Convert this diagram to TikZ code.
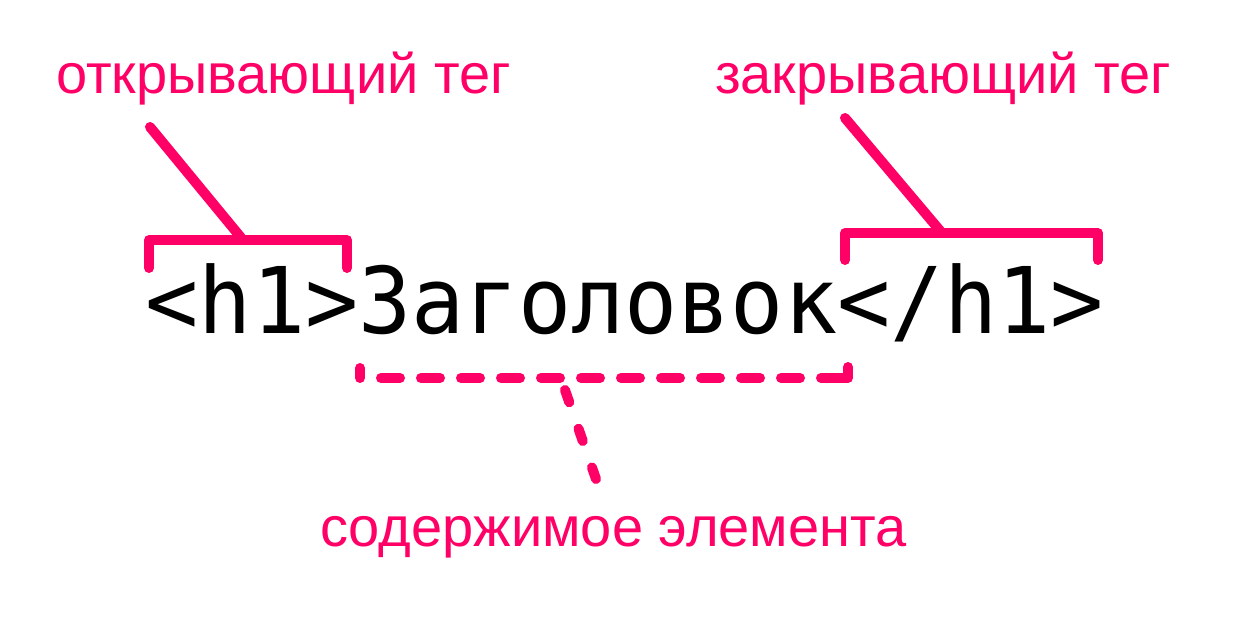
\documentclass[tikz,border=0pt]{standalone}
\usepackage{fontspec}
\setmainfont{Liberation Sans}
\setmonofont[FakeStretch=0.96]{DejaVu Sans Mono}
\usetikzlibrary{positioning}
\definecolor{tagpink}{HTML}{FF0066}

\begin{document}
\begin{tikzpicture}[
    x=1pt, y=-1pt,
    code/.style={inner sep=0pt, font=\ttfamily\fontsize{92}{100}\selectfont},
    lbl/.style={inner sep=0pt, anchor=base west, text=tagpink, font=\fontsize{56}{66}\selectfont},
    brk/.style={draw=tagpink, line width=10pt, line cap=round, line join=round},
    dsh/.style={brk, dash pattern=on 19pt off 21pt}
]
\useasboundingbox (0,0) rectangle (1240,618);

% labels
\node[lbl] (openlbl) at (56,94) {открывающий тег};
\node[lbl] (closelbl) at (715,94) {закрывающий тег};
\node[lbl] (contentlbl) at (320,546) {содержимое элемента};

% the element itself
\node[code, anchor=base west] (open) at (145.5,333) {<h1>};
\node[code, base right=0pt of open] (content) {Заголовок};
\node[code, base right=0pt of content] (close) {</h1>};

% bracket points
\coordinate (opentip) at (150,127);
\coordinate (openbar) at (243,240);
\coordinate (closetip) at (845,118);
\coordinate (closebar) at (942,233);
\coordinate (contentbar) at (565,390);
\coordinate (contenttip) at (596,479);

% opening tag
\draw[brk] (149,268) |- (347,240) -- (347,268);
\draw[brk] (opentip) -- (openbar);

% closing tag
\draw[brk] (845,260) |- (1098,233) -- (1098,260);
\draw[brk] (closetip) -- (closebar);

% content
\draw[brk] (360,368) -- (360,378);
\draw[dsh, dash phase=19pt] (360,378) -- (822,378);
\draw[brk] (822,378) -- (848,378) -- (848,367);
\draw[brk, dash pattern=on 13pt off 28pt] (contentbar) -- (contenttip);
\end{tikzpicture}
\end{document}
